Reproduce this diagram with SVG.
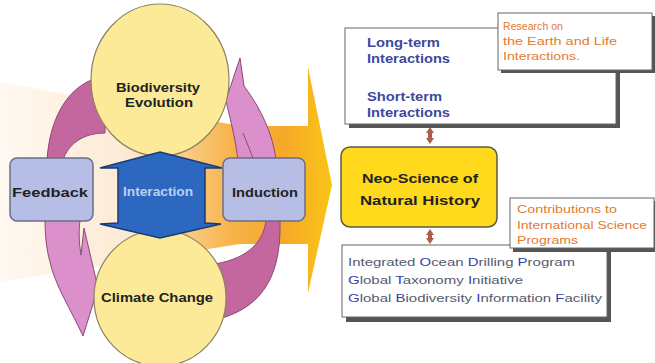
<svg xmlns="http://www.w3.org/2000/svg" width="655" height="363" viewBox="0 0 655 363">
<defs>
<linearGradient id="bigArrow" x1="0" y1="0" x2="332" y2="0" gradientUnits="userSpaceOnUse">
<stop offset="0" stop-color="#FFF9F2"/>
<stop offset="0.4" stop-color="#FCE9D2"/>
<stop offset="0.7" stop-color="#F7B347"/>
<stop offset="0.85" stop-color="#F6A82A"/>
<stop offset="1" stop-color="#F9C416"/>
</linearGradient>
<style>
text{font-family:"Liberation Sans",Arial,sans-serif}
.circle{fill:#FCEA98;stroke:#8C8262;stroke-width:1.2}
.lbox{fill:#B6BEE6;stroke:#6A6E8C;stroke-width:1.5}
.dark{fill:#C5679F;stroke:#8A4A74;stroke-width:1}
.light{fill:#DB8FCB;stroke:#8A4A74;stroke-width:1}
.nodeTxt{font-size:13px;font-weight:bold;fill:#222;text-anchor:middle}
.blue{font-size:12px;font-weight:bold;fill:#3B4A9C}
.orange{font-size:11px;fill:#E47A2E}
.prog{font-size:11px;fill:#555A6E}
.ini{fill:#3040B0}
.shadow{fill:#555}
.wbox{fill:#fff;stroke:#666;stroke-width:1}
.small{fill:#A8604A}
</style>
</defs>
<rect width="655" height="363" fill="#fff"/>
<g id="big-arrow">
<path d="M0,82 L240,126 L308,126 L308,67 L332,185 L308,293 L308,244 L240,244 L0,282 Z" fill="url(#bigArrow)"/>
</g>
<g id="connectors">
<path class="dark" d="M47,160 C50,115 70,82 105,76 L105,133 C82,133 68,145 63,160 Z"/>
<path class="light" d="M45,220 L80,220 C78,236 80,248 81,255 L84,228 L98,288 L83,336 C70,308 55,285 50,262 C46,248 45,232 45,220 Z"/>
<path class="light" d="M238,160 C234,130 228,112 226,100 L232,82 L240,58 L244,86 C262,110 273,135 276,160 Z"/>
<path class="dark" d="M253,158 L243,133" fill="none"/>
<path class="dark" d="M266,220 L280,220 C282,285 255,310 215,320 L215,264 C250,258 264,240 266,220 Z"/>
<path class="small" d="M430,127 L434,133 L432,133 L432,138 L434,138 L430,144 L426,138 L428,138 L428,133 L426,133 Z"/>
<path class="small" d="M430,229 L434,235 L432,235 L432,238 L434,238 L430,244 L426,238 L428,238 L428,235 L426,235 Z"/>
</g>
<g id="biodiversity-evolution">
<ellipse class="circle" cx="160" cy="80" rx="69" ry="76"/>
<text class="nodeTxt" x="158" y="92" textLength="84" lengthAdjust="spacingAndGlyphs">Biodiversity</text>
<text class="nodeTxt" x="159" y="107" textLength="68" lengthAdjust="spacingAndGlyphs">Evolution</text>
</g>
<g id="climate-change">
<ellipse class="circle" cx="160" cy="298" rx="66" ry="68"/>
<text class="nodeTxt" x="157" y="302" textLength="112" lengthAdjust="spacingAndGlyphs">Climate Change</text>
</g>
<g id="feedback">
<rect class="lbox" x="10" y="158" width="83" height="63" rx="7"/>
<text class="nodeTxt" x="50" y="197" textLength="76" lengthAdjust="spacingAndGlyphs">Feedback</text>
</g>
<g id="induction">
<rect class="lbox" x="223" y="158" width="82" height="63" rx="7"/>
<text class="nodeTxt" x="265" y="197" textLength="66" lengthAdjust="spacingAndGlyphs">Induction</text>
</g>
<g id="interaction">
<path d="M160,152 L222,168 L205,168 L205,223 L221,224 L160,238 L100,224 L118,223 L118,168 L100,168 Z" fill="#2D68C0" stroke="#1C3A74" stroke-width="1.5"/>
<text x="158" y="196" font-size="12" font-weight="bold" fill="#BCD0F0" text-anchor="middle" textLength="70" lengthAdjust="spacingAndGlyphs">Interaction</text>
</g>
<g id="interactions-box">
<rect class="shadow" x="349" y="32" width="271" height="96"/>
<rect class="wbox" x="345" y="28" width="271" height="96"/>
<text class="blue" x="367" y="47" textLength="73" lengthAdjust="spacingAndGlyphs">Long-term</text>
<text class="blue" x="367" y="63" textLength="83" lengthAdjust="spacingAndGlyphs">Interactions</text>
<text class="blue" x="367" y="101" textLength="75" lengthAdjust="spacingAndGlyphs">Short-term</text>
<text class="blue" x="367" y="117" textLength="83" lengthAdjust="spacingAndGlyphs">Interactions</text>
</g>
<g id="research-label">
<rect class="shadow" x="501" y="16" width="154" height="57"/>
<rect class="wbox" x="498" y="13" width="154" height="57"/>
<text class="orange" x="503" y="30" textLength="60" lengthAdjust="spacingAndGlyphs">Research on</text>
<text class="orange" x="503" y="45" textLength="114" lengthAdjust="spacingAndGlyphs">the Earth and Life</text>
<text class="orange" x="503" y="60" textLength="77" lengthAdjust="spacingAndGlyphs">Interactions.</text>
</g>
<g id="neo-science">
<rect x="341" y="147" width="156" height="80" rx="9" fill="#FFD91C" stroke="#5A5A4A" stroke-width="1.5"/>
<text class="nodeTxt" x="420" y="183" fill="#111" textLength="116" lengthAdjust="spacingAndGlyphs">Neo-Science of</text>
<text class="nodeTxt" x="420" y="205" fill="#111" textLength="120" lengthAdjust="spacingAndGlyphs">Natural History</text>
</g>
<g id="programs-box">
<rect class="shadow" x="346" y="249" width="265" height="73"/>
<rect class="wbox" x="342" y="245" width="265" height="72"/>
<text class="prog" x="348" y="266" textLength="227" lengthAdjust="spacingAndGlyphs">Integrated <tspan class="ini">O</tspan>cean <tspan class="ini">D</tspan>rilling <tspan class="ini">P</tspan>rogram</text>
<text class="prog" x="348" y="284" textLength="175" lengthAdjust="spacingAndGlyphs"><tspan class="ini">G</tspan>lobal <tspan class="ini">T</tspan>axonomy <tspan class="ini">I</tspan>nitiative</text>
<text class="prog" x="348" y="302" textLength="254" lengthAdjust="spacingAndGlyphs"><tspan class="ini">G</tspan>lobal <tspan class="ini">B</tspan>iodiversity <tspan class="ini">I</tspan>nformation <tspan class="ini">F</tspan>acility</text>
</g>
<g id="contributions-label">
<rect class="shadow" x="513" y="201" width="145" height="51"/>
<rect class="wbox" x="510" y="198" width="144" height="50"/>
<text class="orange" x="517" y="213" textLength="100" lengthAdjust="spacingAndGlyphs">Contributions to</text>
<text class="orange" x="517" y="229" textLength="130" lengthAdjust="spacingAndGlyphs">International Science</text>
<text class="orange" x="517" y="244" textLength="61" lengthAdjust="spacingAndGlyphs">Programs</text>
</g>
</svg>
